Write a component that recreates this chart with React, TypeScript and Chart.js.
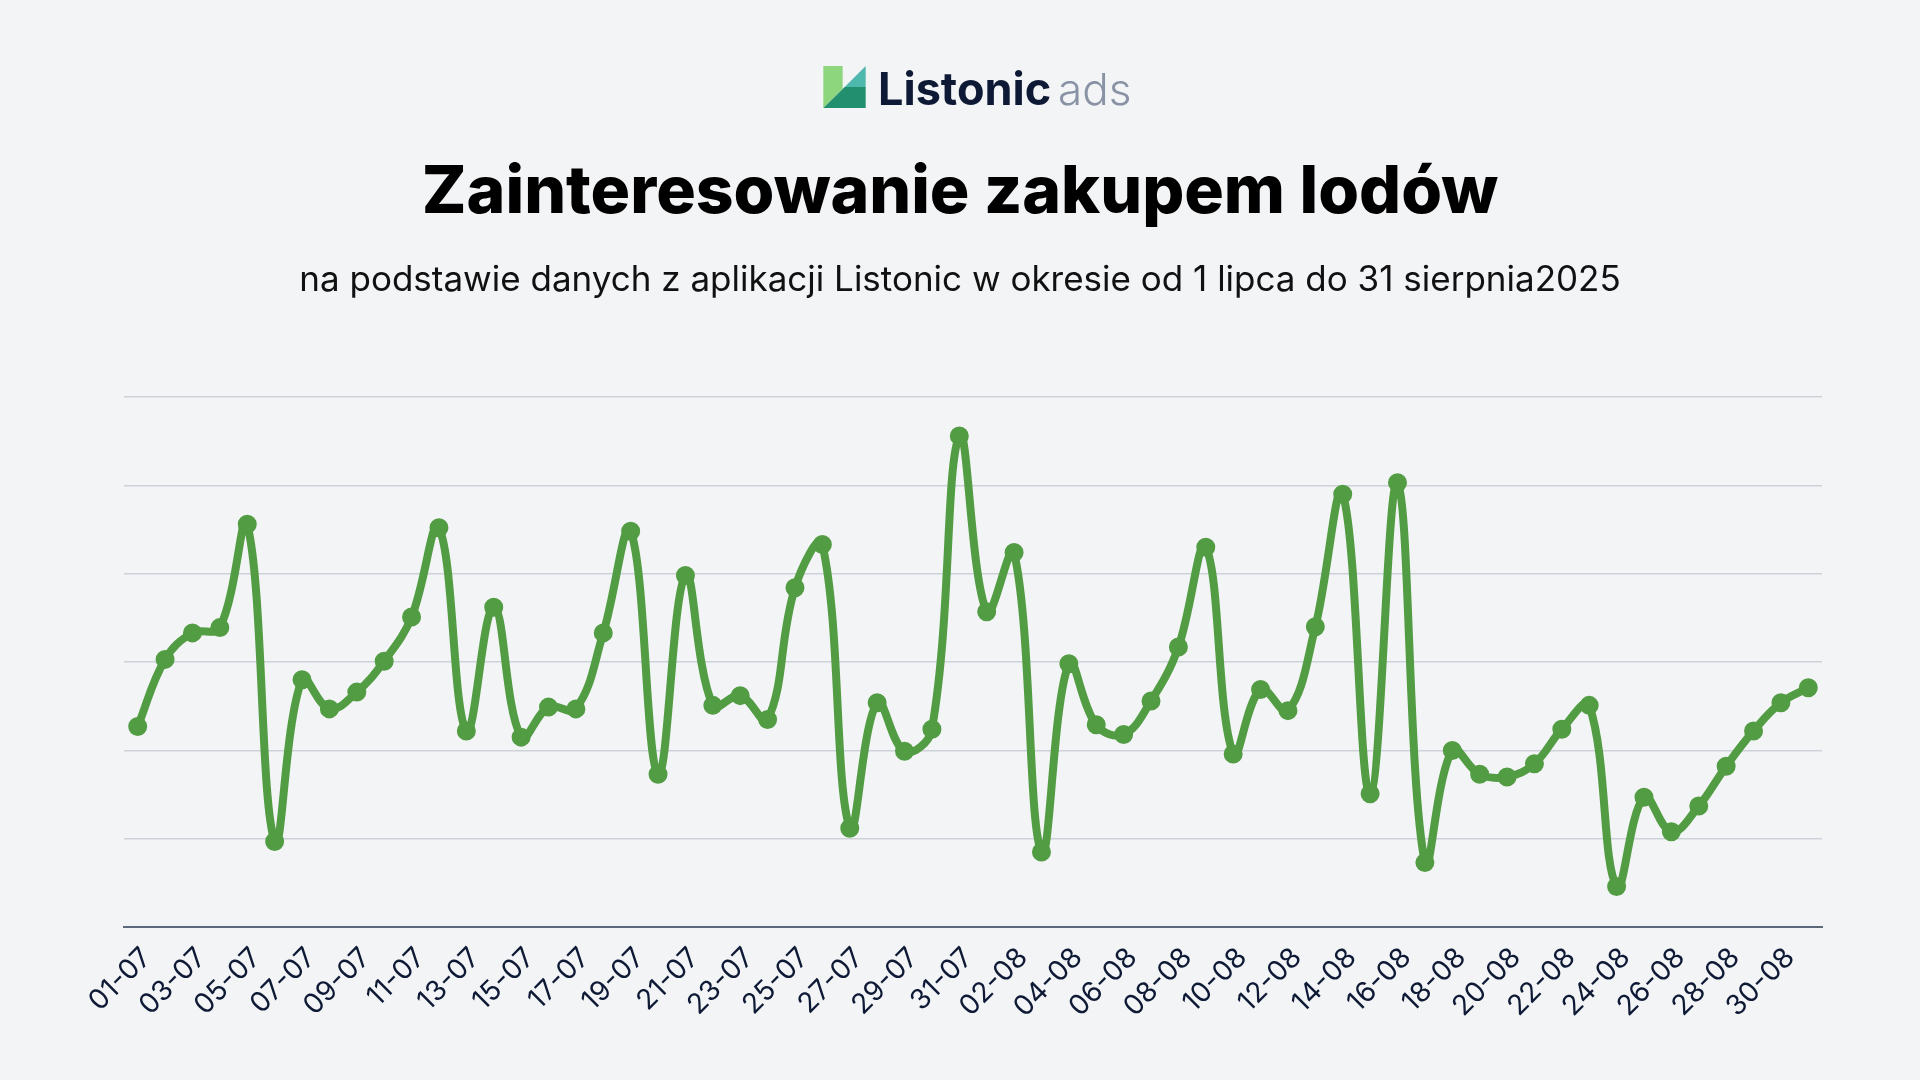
import React, { useEffect, useRef } from "react";
import { Chart, registerables } from "chart.js";

Chart.register(...registerables);

const dates: string[] = [
  "01-07","02-07","03-07","04-07","05-07","06-07","07-07","08-07","09-07","10-07",
  "11-07","12-07","13-07","14-07","15-07","16-07","17-07","18-07","19-07","20-07",
  "21-07","22-07","23-07","24-07","25-07","26-07","27-07","28-07","29-07","30-07",
  "31-07","01-08","02-08","03-08","04-08","05-08","06-08","07-08","08-08","09-08",
  "10-08","11-08","12-08","13-08","14-08","15-08","16-08","17-08","18-08","19-08",
  "20-08","21-08","22-08","23-08","24-08","25-08","26-08","27-08","28-08","29-08",
  "30-08","31-08",
];

const interest: number[] = [
  22.7, 30.3, 33.3, 33.9, 45.6, 9.7, 28.0, 24.7, 26.6, 30.1,
  35.1, 45.2, 22.2, 36.2, 21.5, 24.9, 24.7, 33.3, 44.8, 17.3,
  39.8, 25.1, 26.2, 23.5, 38.4, 43.3, 11.2, 25.4, 19.9, 22.4,
  55.6, 35.7, 42.4, 8.5, 29.8, 22.9, 21.8, 25.6, 31.7, 43.0,
  19.6, 26.9, 24.5, 34.0, 49.0, 15.1, 50.3, 7.3, 20.0, 17.3,
  17.0, 18.5, 22.4, 25.1, 4.6, 14.7, 10.8, 13.7, 18.2, 22.2,
  25.4, 27.1,
];

const yMin = 0;
const yMax = 60;
const yStep = 10;

const titleText = "Zainteresowanie zakupem lodów";
const subtitleText = "na podstawie danych z aplikacji Listonic w okresie od 1 lipca do 31 sierpnia2025";

const BG = "#f3f4f6";
const GREEN = "#529c43";
const NAVY = "#0e1a35";

export default function App() {
  const canvasRef = useRef<HTMLCanvasElement | null>(null);

  useEffect(() => {
    document.body.style.margin = "0";
    document.body.style.background = BG;
    const canvas = canvasRef.current;
    if (!canvas) return;
    const chart = new Chart(canvas, {
      type: "line",
      data: {
        labels: dates,
        datasets: [
          {
            data: interest,
            borderColor: GREEN,
            backgroundColor: GREEN,
            borderWidth: 8,
            pointRadius: 8,
            pointBorderWidth: 3,
            pointBackgroundColor: GREEN,
            pointBorderColor: GREEN,
            tension: 0.4,
            fill: false,
          },
        ],
      },
      options: {
        responsive: false,
        animation: false,
        devicePixelRatio: 1,
        layout: { padding: { top: 397, left: 124, right: 98, bottom: 42 } },
        plugins: {
          legend: { display: false },
          tooltip: { enabled: false },
          title: { display: false },
        },
        scales: {
          x: {
            type: "category",
            offset: true,
            grid: { display: false, drawTicks: false },
            border: { display: true, color: "#5d677a", width: 2 },
            ticks: {
              autoSkip: true,
              maxRotation: 45,
              minRotation: 45,
              padding: 14,
              labelOffset: 9,
              color: NAVY,
              font: { family: "Inter, 'Noto Sans', sans-serif", size: 28 },
              callback: function (_v: any, i: number) {
                return i % 2 === 0 ? dates[i] : null;
              },
            },
          },
          y: {
            min: yMin,
            max: yMax,
            ticks: { display: false, stepSize: yStep },
            border: { display: false },
            grid: {
              drawTicks: false,
              color: (ctx: any) => (ctx.tick && ctx.tick.value === 0 ? "#5d677a" : "#cdd1d8"),
              lineWidth: 1.5,
            },
          },
        },
      },
    });
    return () => chart.destroy();
  }, []);

  return (
    <div style={{ position: "relative", width: 1920, height: 1080, background: BG, overflow: "hidden" }}>
      <canvas ref={canvasRef} width={1920} height={1080} style={{ position: "absolute", left: 0, top: 0, width: 1920, height: 1080 }} />
      <svg width={43} height={42} viewBox="0 0 127 126" style={{ position: "absolute", left: 823, top: 66 }}>
        <polygon points="0,0 58,0 58,68 0,126" fill="#8ed67e" />
        <polygon points="64,63 127,0 127,63" fill="#4fb8ad" />
        <polygon points="0,126 64,63 127,63 127,126" fill="#22906f" />
      </svg>
      <div style={{ position: "absolute", left: 878, top: 59, fontFamily: "Inter, sans-serif", fontWeight: 700, fontSize: 45, lineHeight: "60px", color: NAVY, whiteSpace: "nowrap" }}>
        Listonic
      </div>
      <div style={{ position: "absolute", left: 1058, top: 59, fontFamily: "Inter, sans-serif", fontWeight: 300, fontSize: 44, lineHeight: "60px", color: "#8a93a6", whiteSpace: "nowrap" }}>
        ads
      </div>
      <div style={{ position: "absolute", left: 0, width: 1920, top: 149, textAlign: "center", fontFamily: "Inter, sans-serif", fontWeight: 800, fontSize: 66, lineHeight: "80px", color: "#000", whiteSpace: "nowrap" }}>
        {titleText}
      </div>
      <div style={{ position: "absolute", left: 0, width: 1920, top: 258, textAlign: "center", fontFamily: "Inter, sans-serif", fontWeight: 400, fontSize: 35, lineHeight: "40px", color: "#111", whiteSpace: "nowrap" }}>
        {subtitleText}
      </div>
    </div>
  );
}
